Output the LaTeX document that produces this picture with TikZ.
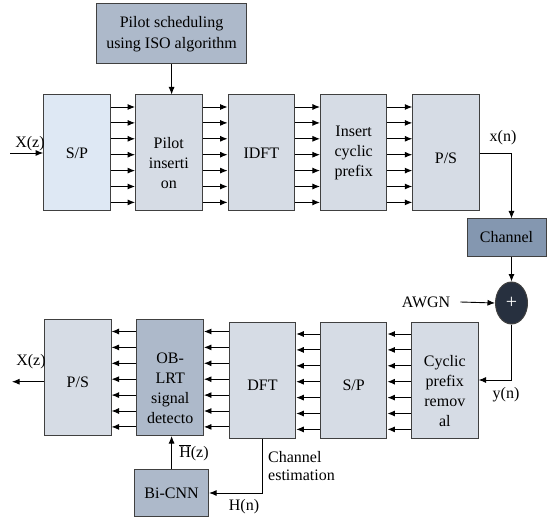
\documentclass[tikz,border=0pt]{standalone}
\usepackage{fontspec}
\setmainfont{Liberation Serif}
\usetikzlibrary{arrows.meta,calc,shapes.geometric}

\definecolor{boxgray}{HTML}{D6DCE5}
\definecolor{boxblue}{HTML}{DEE8F4}
\definecolor{boxmid}{HTML}{ADB9CA}
\definecolor{boxdark}{HTML}{8497B0}
\definecolor{sumfill}{HTML}{27303F}
\definecolor{edge}{HTML}{404040}

\tikzset{
  blk/.style={draw=edge, line width=1pt, fill=boxgray, minimum width=66.5pt, minimum height=116pt, inner sep=0pt, align=center, font=\rmfamily\fontsize{16}{20}\selectfont},
  lbl/.style={align=center, inner sep=0pt, font=\rmfamily\fontsize{16}{20}\selectfont},
  sig/.style={inner sep=1pt, font=\rmfamily\fontsize{16}{18}\selectfont},
  arr/.style={-{Latex[length=7.5pt,width=6pt]}, line width=0.9pt},
}

\begin{document}
\begin{tikzpicture}[x=1pt,y=-1pt]
    \useasboundingbox (0,0) rectangle (548,521);
    % transmitter
    \node[blk, fill=boxmid, minimum width=149.6pt, minimum height=60pt, font=\rmfamily\fontsize{16}{21}\selectfont] (psch) at (171.6,34) {Pilot scheduling\\using ISO algorithm};
    \node[blk, fill=boxblue] (sp1) at (76.9,153) {S/P};
    \node[blk, label={[lbl,yshift=-10pt]center:Pilot\\inserti\\on}] (pins) at (168.8,153) {};
    \node[blk] (idft) at (261.3,153) {IDFT};
    \node[blk] (icp) at (353.7,153) {Insert\\cyclic\\prefix};
    \node[blk, label={[lbl,yshift=-5pt]center:P/S}] (ps1) at (446,153) {};
    \node[blk, fill=boxdark, minimum width=79pt, minimum height=37pt] (chan) at (506.5,237.5) {Channel};
    \node[ellipse, draw=edge, line width=1pt, fill=sumfill, minimum width=32pt, minimum height=42pt, inner sep=0pt, text=white, font=\rmfamily\fontsize{20}{20}\selectfont] (sum) at (511.5,303) {+};
    % receiver
    \node[blk, label={[lbl,yshift=-5pt]center:P/S}] (ps2) at (77.8,377.5) {};
    \node[blk, fill=boxmid, label={[lbl,yshift=-11pt]center:OB-\\LRT\\signal\\detecto}] (obl) at (170.2,377.5) {};
    \node[blk, label={[lbl,yshift=-5pt]center:DFT}] (dft) at (262.5,380) {};
    \node[blk, label={[lbl,yshift=-5pt]center:S/P}] (sp2) at (353.7,380) {};
    \node[blk, label={[lbl,yshift=-11pt]center:Cyclic\\prefix\\remov\\al}] (cpr) at (444.8,380) {};
    \node[blk, fill=boxmid, minimum width=74pt, minimum height=47pt] (bicnn) at (171.6,493) {Bi-CNN};
    % signal labels
    \node[sig] (xz1) at (30,144) {X(z)};
    \node[sig] (xn) at (503,138) {x(n)};
    \node[sig] (awgn) at (426,302) {AWGN};
    \node[sig] (yn) at (506,395) {y(n)};
    \node[sig] (xz2) at (31,362) {X(z)};
    \node[sig] (hz) at (194,453) {$\overline{\mbox{H}}$(z)};
    \node[sig] (hn) at (244,507) {H(n)};
    \node[sig, align=left, anchor=north west] (cest) at (267,450) {Channel\\estimation};
    % connectors
    \coordinate (in) at (10,153);
    \coordinate (out) at (12,381.7);
    \draw[arr] (psch.south) -- (psch.south |- pins.north);
    \draw[arr] (in) -- (sp1.west);
    \foreach \a/\b in {sp1/pins,pins/idft,idft/icp,icp/ps1}
        \foreach \k in {0,...,6} {
            \coordinate (t) at ($(\b.north west)+(0,{12.5+15.9*\k})$);
            \draw[arr] (\a.east |- t) -- (t);
        }
    \draw[arr] (ps1.east) -| (sum |- chan.north);
    \draw[arr] (sum |- chan.south) -- (sum.north);
    \draw[arr] ([xshift=9pt]awgn.east) -- (sum.west);
    \draw[arr] (sum.south) |- (cpr.east);
    \foreach \a/\b in {cpr/sp2,sp2/dft,dft/obl,obl/ps2}
        \foreach \k in {0,...,6} {
            \coordinate (t) at ($(\b.north east)+(0,{12.5+15.9*\k})$);
            \draw[arr] (\a.west |- t) -- (t);
        }
    \draw[arr] (ps2.west |- out) -- (out);
    \draw[arr] (dft.south) |- (bicnn.east);
    \draw[arr] (bicnn.north) -- (bicnn.north |- obl.south);
\end{tikzpicture}
\end{document}
